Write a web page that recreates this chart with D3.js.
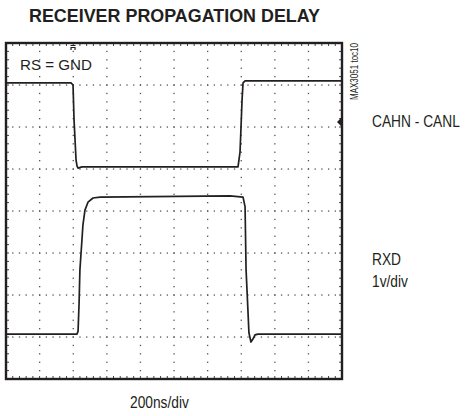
<!DOCTYPE html>
<html>
<head>
<meta charset="utf-8">
<script src="https://cdn.jsdelivr.net/npm/d3@7"></script>
<style>
    body { margin: 0; background: #fff; }
    .chart-scope text {
        font-family: 'Liberation Sans Narrow', 'Arial Narrow', 'Liberation Sans', Arial, sans-serif;
        fill: #231f20;
    }
</style>
</head>
<body>
<div class="chart-scope"></div>
<script>
const titleText = 'RECEIVER PROPAGATION DELAY';
const conditionText = 'RS = GND';
const figureId = 'MAX3051 toc10';
const timeBaseText = '200ns/div';
const traceNames = ['CAHN - CANL', 'RXD'];
const voltScaleText = '1v/div';

// screen: 10 x 200ns horizontally, 8 divisions vertically, 5 minor ticks per division
const timeDomain = [0, 2000];
const levelDomain = [0, 8];
const minorTime = 40;
const minorLevel = 0.2;

// [time ns, level in divisions from the bottom of the screen]
const canhCanl = [
    [0, 7.05], [387, 7.05], [399, 7.0], [405, 6.17], [417, 5.21], [423, 5.07],
    [429, 5.02], [452, 5.05], [917, 5.05], [1381, 5.05], [1393, 5.4],
    [1399, 6.0], [1405, 6.64], [1411, 7.05], [1423, 7.1], [2000, 7.1],
];

const rxd = [
    [0, 1.07], [423, 1.07], [429, 1.14], [435, 1.81], [440, 2.6], [452, 3.31],
    [458, 3.67], [470, 4.02], [488, 4.21], [518, 4.31], [560, 4.33],
    [1333, 4.36], [1411, 4.33], [1423, 4.1], [1429, 2.6], [1440, 1.64],
    [1446, 1.1], [1458, 0.88], [1470, 0.95], [1482, 1.05], [1500, 1.07],
    [2000, 1.07],
];

// trigger point (top marker) and channel 1 ground marker (right edge)
const triggerTime = 399;
const groundLevel = 6.12;

function scopeChart() {
    const w = 469;
    const h = 416;
    const frame = { left: 6, top: 43, right: 342, bottom: 379 };

    const svg = d3
        .select('.chart-scope')
        .append('svg')
        .attr('width', w)
        .attr('height', h);

    const x = d3.scaleLinear().domain(timeDomain).range([frame.left, frame.right]);
    const y = d3.scaleLinear().domain(levelDomain).range([frame.bottom, frame.top]);

    const minorX = d3.range(timeDomain[0], timeDomain[1] + 1, minorTime);
    const minorY = d3.range(0, 41).map((i) => i * minorLevel);
    const majorX = d3.range(1, 10).map((i) => i * 200);
    const majorY = d3.range(1, 8);

    const grid = svg.append('g').attr('class', 'grid').attr('fill', '#555');

    // dotted horizontal graticule
    majorY.forEach((lv) => {
        grid.selectAll(null)
            .data(minorX)
            .enter()
            .append('rect')
            .attr('x', (d) => x(d) - 0.6)
            .attr('y', y(lv) - 0.6)
            .attr('width', 1.3)
            .attr('height', 1.3);
    });

    // dotted vertical graticule
    majorX.forEach((t) => {
        grid.selectAll(null)
            .data(minorY)
            .enter()
            .append('rect')
            .attr('x', x(t) - 0.6)
            .attr('y', (d) => y(d) - 0.6)
            .attr('width', 1.3)
            .attr('height', 1.3);
    });

    // small ticks along the frame
    const ticks = svg.append('g').attr('stroke', '#444').attr('stroke-width', 1);
    [frame.top, frame.bottom].forEach((edge, i) => {
        const dir = i === 0 ? 1 : -1;
        ticks.selectAll(null)
            .data(minorX)
            .enter()
            .append('line')
            .attr('x1', (d) => x(d))
            .attr('x2', (d) => x(d))
            .attr('y1', edge)
            .attr('y2', edge + dir * 3);
    });
    [frame.left, frame.right].forEach((edge, i) => {
        const dir = i === 0 ? 1 : -1;
        ticks.selectAll(null)
            .data(minorY)
            .enter()
            .append('line')
            .attr('x1', edge)
            .attr('x2', edge + dir * 3)
            .attr('y1', (d) => y(d))
            .attr('y2', (d) => y(d));
    });

    const line = d3
        .line()
        .x((d) => x(d[0]))
        .y((d) => y(d[1]));

    svg.selectAll('.trace')
        .data([canhCanl, rxd])
        .enter()
        .append('path')
        .attr('class', 'trace')
        .attr('d', line)
        .attr('fill', 'none')
        .attr('stroke', '#231f20')
        .attr('stroke-width', 1.7)
        .attr('stroke-linejoin', 'round');

    svg.append('rect')
        .attr('x', frame.left)
        .attr('y', frame.top)
        .attr('width', frame.right - frame.left)
        .attr('height', frame.bottom - frame.top)
        .attr('fill', 'none')
        .attr('stroke', '#231f20')
        .attr('stroke-width', 2.4);

    // trigger marker
    const tx = x(triggerTime);
    svg.append('path')
        .attr('d', `M${tx - 2.5},${frame.top + 2.5}h5M${tx - 2},${frame.top + 7}v-2.5h4v2.5`)
        .attr('fill', 'none')
        .attr('stroke', '#231f20')
        .attr('stroke-width', 1.2);

    // channel marker on the right edge
    const gy = y(groundLevel);
    svg.append('path')
        .attr('d', `M${frame.right - 1},${gy - 4}L${frame.right - 5},${gy}L${frame.right - 1},${gy + 4}Z`)
        .attr('fill', '#231f20');

    svg.append('text')
        .attr('x', 29)
        .attr('y', 22)
        .attr('font-size', 19)
        .attr('font-weight', 'bold')
        .attr('textLength', 291)
        .attr('lengthAdjust', 'spacingAndGlyphs')
        .text(titleText);

    svg.append('text')
        .attr('x', 20)
        .attr('y', 70)
        .attr('font-size', 15)
        .attr('textLength', 72)
        .attr('lengthAdjust', 'spacingAndGlyphs')
        .text(conditionText);

    svg.append('text')
        .attr('transform', 'translate(358,100) rotate(-90)')
        .attr('font-size', 10.5)
        .attr('textLength', 57)
        .attr('lengthAdjust', 'spacingAndGlyphs')
        .text(figureId);

    // right-hand and bottom labels, squeezed horizontally like a narrow face
    const labels = [
        { text: traceNames[0], x: 372, y: 127 },
        { text: traceNames[1], x: 372, y: 265 },
        { text: voltScaleText, x: 372, y: 287 },
        { text: timeBaseText, x: 130, y: 408 },
    ];

    svg.selectAll('.label')
        .data(labels)
        .enter()
        .append('text')
        .attr('class', 'label')
        .attr('transform', (d) => `translate(${d.x},${d.y}) scale(0.86,1)`)
        .attr('font-size', 16)
        .text((d) => d.text);
}

scopeChart();
</script>
</body>
</html>
